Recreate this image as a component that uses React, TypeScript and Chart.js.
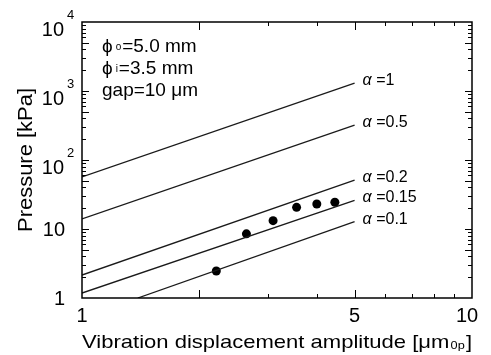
import React, { useEffect, useRef } from "react";
import { Chart, registerables } from "chart.js";

Chart.register(...registerables);

const FONT = '"Liberation Sans", Arial, Helvetica, sans-serif';

// Model lines (alpha values), endpoints: [x, y]
const alphaLabels = ["1", "0.5", "0.2", "0.15", "0.1"];
const lineStartX = [1, 1, 1, 1, 1.39];
const lineStartY = [57, 14, 2.15, 1.18, 1];
const lineEndX = [5, 5, 5, 5, 5];
const lineEndY = [1300, 320, 51, 26, 12.8];

// Measured points
const measX = [2.21, 2.64, 3.09, 3.55, 4.0, 4.45];
const measY = [2.46, 8.5, 13.2, 20.6, 23, 24.4];

// Axis ticks
const xMinorTicks = [2, 3, 4, 5, 6, 7, 8, 9];
const xLabelValues = [1, 5, 10];
const xLabelTexts = ["1", "5", "10"];
const yLabelValues = [1, 10, 100, 1000, 10000];
const yLabelBase = ["1", "10", "10", "10", "10"];
const yLabelExp = ["", "", "2", "3", "4"];

const xTitle = "Vibration displacement amplitude [μm";
const xTitleSub = "0p";
const xTitleEnd = "]";
const yTitle = "Pressure [kPa]";

const infoMain = ["ϕ", "ϕ", "gap=10 μm"];
const infoSub = ["o", "i", ""];
const infoRest = ["=5.0 mm", "=3.5 mm", ""];

const overlay = {
  id: "overlay",
  beforeDraw(chart: any) {
    const ctx = chart.ctx;
    ctx.save();
    ctx.fillStyle = "#fff";
    ctx.fillRect(0, 0, chart.width, chart.height);
    ctx.restore();
  },
  afterDraw(chart: any) {
    const ctx = chart.ctx;
    const { left, right, top, bottom } = chart.chartArea;
    const xs = chart.scales.x;
    const ys = chart.scales.y;
    ctx.save();
    ctx.strokeStyle = "#000";
    ctx.fillStyle = "#000";
    ctx.lineWidth = 1;

    // x ticks (inside, top & bottom)
    xMinorTicks.forEach((v) => {
      const px = Math.round(xs.getPixelForValue(v)) + 0.5;
      const len = v === 2 || v === 5 ? 8 : 4;
      ctx.beginPath();
      ctx.moveTo(px, bottom);
      ctx.lineTo(px, bottom - len);
      ctx.moveTo(px, top);
      ctx.lineTo(px, top + len);
      ctx.stroke();
    });
    // y ticks (inside, left & right)
    for (let d = 0; d < 4; d++) {
      for (let m = 1; m <= 9; m++) {
        const v = m * Math.pow(10, d);
        if (v === 1) continue;
        const py = Math.round(ys.getPixelForValue(v)) + 0.5;
        const len = m === 1 || m === 5 ? 7 : 4;
        ctx.beginPath();
        ctx.moveTo(left, py);
        ctx.lineTo(left + len, py);
        ctx.moveTo(right, py);
        ctx.lineTo(right - len, py);
        ctx.stroke();
      }
    }
    // frame
    ctx.lineWidth = 1.5;
    ctx.strokeRect(left, top, right - left, bottom - top);

    // y tick labels
    yLabelValues.forEach((v, i) => {
      const py = ys.getPixelForValue(v);
      ctx.font = `20px ${FONT}`;
      ctx.textAlign = "right";
      ctx.textBaseline = "alphabetic";
      if (yLabelExp[i]) {
        ctx.fillText(yLabelBase[i], left - 18, py + 14);
        ctx.font = `13px ${FONT}`;
        ctx.textAlign = "left";
        ctx.fillText(yLabelExp[i], left - 15, py - 3);
      } else {
        ctx.fillText(yLabelBase[i], left - 17, py + 7);
      }
    });
    // x tick labels
    ctx.font = `20px ${FONT}`;
    ctx.textAlign = "center";
    xLabelValues.forEach((v, i) => {
      let px = xs.getPixelForValue(v);
      if (i === xLabelValues.length - 1) px -= 5;
      ctx.fillText(xLabelTexts[i], px, bottom + 24);
    });

    // x title (stretched to span the plot width, as in the reference)
    ctx.textAlign = "left";
    ctx.font = `19px ${FONT}`;
    const w1 = ctx.measureText(xTitle).width;
    ctx.font = `11px ${FONT}`;
    const w2 = ctx.measureText(xTitleSub).width;
    ctx.font = `19px ${FONT}`;
    const w3 = ctx.measureText(xTitleEnd).width;
    const total = w1 + 1 + w2 + 1 + w3;
    const sx = (right - left) / total;
    ctx.save();
    ctx.translate(left, bottom + 50);
    ctx.scale(sx, 1);
    ctx.fillText(xTitle, 0, 0);
    ctx.font = `11px ${FONT}`;
    ctx.fillText(xTitleSub, w1 + 1, 1);
    ctx.font = `19px ${FONT}`;
    ctx.fillText(xTitleEnd, w1 + 1 + w2 + 1, 0);
    ctx.restore();

    // y title
    ctx.save();
    ctx.font = `20px ${FONT}`;
    const yw = ctx.measureText(yTitle).width;
    ctx.translate(32, (top + bottom) / 2);
    ctx.rotate(-Math.PI / 2);
    ctx.scale(144 / yw, 1);
    ctx.textAlign = "center";
    ctx.fillText(yTitle, 0, 0);
    ctx.restore();

    // info block
    infoMain.forEach((t, i) => {
      const bx = left + 20;
      const by = top + 30 + i * 22;
      ctx.textAlign = "left";
      ctx.font = `19px ${FONT}`;
      ctx.fillText(t, bx, by);
      let cx = bx + ctx.measureText(t).width + 3;
      if (infoSub[i]) {
        ctx.font = `10px ${FONT}`;
        ctx.fillText(infoSub[i], cx, by - 2);
        cx += ctx.measureText(infoSub[i]).width + 1;
        ctx.font = `19px ${FONT}`;
        ctx.fillText(infoRest[i], cx, by);
      }
    });

    // alpha labels at line ends
    alphaLabels.forEach((lab, i) => {
      const px = xs.getPixelForValue(lineEndX[i]) + 8;
      const py = ys.getPixelForValue(lineEndY[i]) + 2;
      ctx.textAlign = "left";
      ctx.font = `italic 16px ${FONT}`;
      ctx.fillText("α", px, py);
      const w = ctx.measureText("α ").width;
      ctx.font = `16px ${FONT}`;
      ctx.fillText("=" + lab, px + w, py);
    });

    ctx.restore();
  },
};

export default function App() {
  const ref = useRef<HTMLCanvasElement>(null);
  useEffect(() => {
    if (!ref.current) return;
    const lineSets = alphaLabels.map((lab, i) => ({
      label: "α=" + lab,
      data: [
        { x: lineStartX[i], y: lineStartY[i] },
        { x: lineEndX[i], y: lineEndY[i] },
      ],
      showLine: true,
      borderColor: "#1a1a1a",
      borderWidth: 1.3,
      pointRadius: 0,
      fill: false,
    }));
    const chart = new Chart(ref.current, {
      type: "scatter",
      data: {
        datasets: [
          ...lineSets,
          {
            label: "measured",
            data: measX.map((x, i) => ({ x, y: measY[i] })),
            pointRadius: 4.5,
            pointBackgroundColor: "#000",
            pointBorderWidth: 0,
            showLine: false,
          },
        ],
      } as any,
      options: {
        responsive: false,
        animation: false,
        layout: { padding: { left: 82, top: 22, right: 19, bottom: 57 } },
        plugins: { legend: { display: false }, tooltip: { enabled: false } },
        scales: {
          x: { type: "logarithmic", min: 1, max: 10, display: false },
          y: { type: "logarithmic", min: 1, max: 10000, display: false },
        },
      } as any,
      plugins: [overlay],
    });
    return () => chart.destroy();
  }, []);
  return (
    <div style={{ position: "fixed", left: 0, top: 0, width: 491, height: 355 }}>
      <canvas ref={ref} width={491} height={355} style={{ display: "block" }} />
    </div>
  );
}
